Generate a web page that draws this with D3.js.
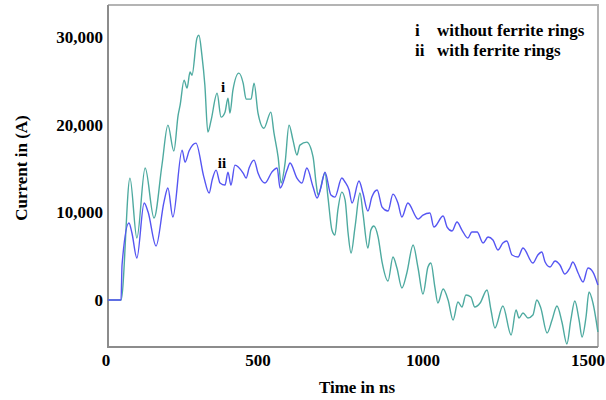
<!DOCTYPE html>
<html>
<head>
<meta charset="utf-8">
<script src="https://cdn.jsdelivr.net/npm/d3@7"></script>
<style>
    body { margin: 0; background: #fff; }
    svg text { font-family: "Liberation Serif", "Times New Roman", serif; font-weight: bold; fill: #000; }
</style>
</head>
<body>
<div id="chart"></div>
<script>
// Time (ns) and current (A)
const timeI = [45, 85, 112, 133, 158, 185, 209, 227, 245, 258, 264, 276, 285, 294, 300, 315, 321, 330, 339, 348, 358, 376, 388, 400, 409, 415, 424, 442, 455, 464, 479, 488, 500, 518, 539, 548, 561, 570, 582, 594, 606, 618, 627, 648, 667, 676, 682, 703, 712, 724, 733, 742, 754, 764, 773, 782, 794, 809, 818, 833, 842, 851, 864, 876, 894, 909, 921, 936, 951, 970, 985, 1000, 1015, 1024, 1036, 1045, 1061, 1076, 1091, 1106, 1118, 1130, 1145, 1157, 1173, 1194, 1206, 1218, 1242, 1267, 1282, 1291, 1303, 1318, 1333, 1345, 1357, 1376, 1391, 1406, 1421, 1436, 1448, 1460, 1473, 1482, 1494, 1503, 1515, 1530];
const currentI = [0, 0, 13900, 7070, 15050, 9350, 15400, 19950, 17000, 21100, 22230, 25080, 24170, 26000, 25650, 29870, 30200, 27930, 24500, 19150, 20520, 23600, 20860, 21430, 23030, 21320, 23940, 25880, 24740, 22910, 22910, 24740, 21320, 19600, 21430, 19150, 16300, 13340, 15620, 19950, 18240, 16530, 17670, 18010, 16300, 13340, 11970, 14480, 11740, 7980, 7410, 10260, 12310, 11400, 7640, 5360, 8320, 12200, 9920, 5930, 7980, 8440, 7180, 4330, 2170, 4900, 3650, 1370, 3080, 6270, 3650, 680, 3760, 4220, 1480, -340, 1250, 0, -2280, -230, -800, 570, 340, -800, -340, 1140, -1140, -3190, -680, -3990, -1140, -2050, -1480, -2050, -1710, 0, -910, -3760, -2280, -680, -2510, -5020, -2280, -110, -2280, -4220, -1940, 910, -340, -3650];

const timeII = [45, 85, 88, 109, 118, 133, 155, 167, 191, 215, 227, 242, 270, 279, 291, 312, 336, 352, 361, 373, 385, 400, 409, 418, 430, 455, 464, 473, 488, 500, 521, 542, 558, 567, 588, 597, 618, 633, 648, 667, 679, 691, 703, 721, 733, 754, 764, 776, 785, 806, 818, 833, 845, 861, 876, 894, 909, 924, 936, 954, 985, 1000, 1021, 1033, 1061, 1073, 1088, 1103, 1118, 1136, 1148, 1164, 1182, 1197, 1212, 1227, 1242, 1254, 1270, 1288, 1303, 1333, 1348, 1360, 1370, 1385, 1400, 1415, 1430, 1445, 1454, 1470, 1485, 1500, 1515, 1530];
const currentII = [0, 0, 3990, 8780, 7640, 4790, 11060, 10030, 6160, 11170, 12770, 9460, 17100, 15730, 16990, 17900, 14020, 12200, 13680, 14820, 13340, 13110, 14590, 13110, 15390, 14480, 13910, 15050, 15960, 14480, 13340, 14590, 15050, 12770, 14820, 15620, 13910, 13340, 15050, 12880, 11630, 12880, 14590, 11970, 11740, 13910, 13450, 12540, 11060, 13570, 12200, 10150, 11740, 12540, 10600, 10150, 12080, 11060, 9460, 11060, 9230, 9690, 9920, 8320, 9580, 8320, 7870, 8890, 7980, 7070, 7750, 7750, 6500, 7180, 6840, 5700, 6500, 6730, 5130, 4900, 5930, 4220, 5130, 5470, 4330, 3760, 4450, 3990, 2960, 3650, 4330, 3080, 2050, 3650, 3190, 1710];

const xTicks = [0, 500, 1000, 1500];
const yTicks = [0, 10000, 20000, 30000];
const legendKeys = ['i', 'ii'];
const legendLabels = ['without ferrite rings', 'with ferrite rings'];

const width = 606, height = 400;
const plot = { left: 108, top: 5, right: 598, bottom: 347 };

const svg = d3.select('#chart')
    .append('svg')
    .attr('width', width)
    .attr('height', height);

const x = d3.scaleLinear().domain([0, 1500]).range([93, 588]);
const y = d3.scaleLinear().domain([-5360, 33650]).range([plot.bottom, plot.top]);

// Frame: light top/right, darker left/bottom
const frame = svg.append('g').attr('fill', 'none').attr('stroke-width', 2);
frame.append('path')
    .attr('stroke', '#b4b4b4')
    .attr('d', `M${plot.left},${plot.top}H${plot.right}V${plot.bottom}`);
frame.append('path')
    .attr('stroke', '#8c8c8c')
    .attr('d', `M${plot.left},${plot.top}V${plot.bottom}H${plot.right}`);

// Lines
const line = d3.line()
    .x(d => x(d[0]))
    .y(d => y(d[1]))
    .curve(d3.curveMonotoneX);

svg.append('path')
    .datum(d3.zip(timeI, currentI))
    .attr('fill', 'none')
    .attr('stroke', '#4eaaa0')
    .attr('stroke-width', 1.4)
    .attr('d', line);

svg.append('path')
    .datum(d3.zip(timeII, currentII))
    .attr('fill', 'none')
    .attr('stroke', '#5555f2')
    .attr('stroke-width', 1.4)
    .attr('d', line);

// Y tick labels
svg.append('g')
    .selectAll('text')
    .data(yTicks)
    .enter()
    .append('text')
    .attr('x', 103)
    .attr('y', d => y(d))
    .attr('dy', '0.35em')
    .attr('text-anchor', 'end')
    .style('font-size', '17px')
    .text(d => d3.format(',')(d));

// X tick labels (the 0 sits at the frame edge)
svg.append('g')
    .selectAll('text')
    .data(xTicks)
    .enter()
    .append('text')
    .attr('x', d => Math.max(x(d), 106))
    .attr('y', 366)
    .attr('text-anchor', 'middle')
    .style('font-size', '17px')
    .text(d => d);

// Axis titles
svg.append('text')
    .attr('x', 357)
    .attr('y', 393)
    .attr('text-anchor', 'middle')
    .style('font-size', '17px')
    .text('Time in ns');

svg.append('text')
    .attr('transform', 'translate(27,168) rotate(-90)')
    .attr('text-anchor', 'middle')
    .style('font-size', '17px')
    .text('Current in (A)');

// Curve labels
svg.append('text').attr('x', 223).attr('y', 92).attr('text-anchor', 'middle')
    .style('font-size', '15px').text('i');
svg.append('text').attr('x', 222).attr('y', 168).attr('text-anchor', 'middle')
    .style('font-size', '15px').text('ii');

// Legend
const legend = svg.append('g');
legend.selectAll('.key')
    .data(legendKeys)
    .enter()
    .append('text')
    .attr('class', 'key')
    .attr('x', 415)
    .attr('y', (d, i) => 36 + i * 20)
    .style('font-size', '17px')
    .text(d => d);
legend.selectAll('.lab')
    .data(legendLabels)
    .enter()
    .append('text')
    .attr('class', 'lab')
    .attr('x', 437)
    .attr('y', (d, i) => 36 + i * 20)
    .style('font-size', '17px')
    .text(d => d);
</script>
</body>
</html>
